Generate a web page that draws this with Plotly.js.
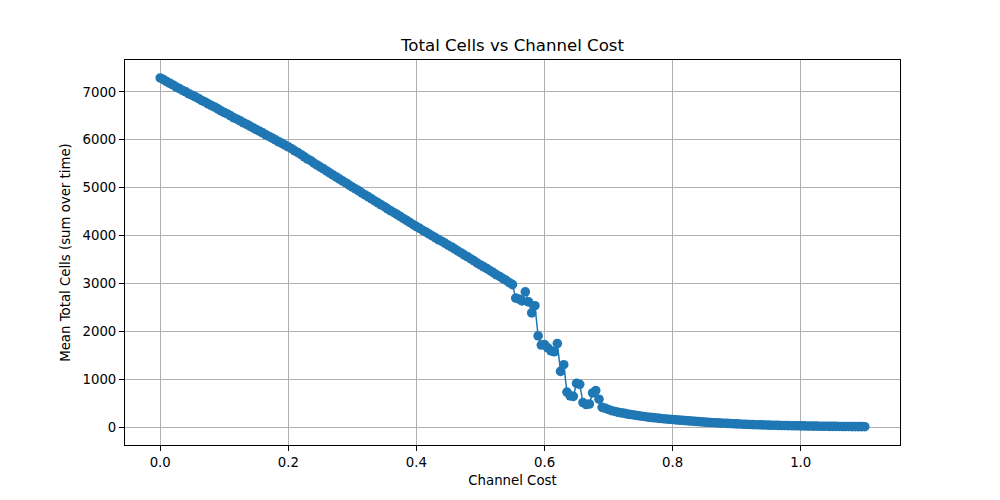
<!DOCTYPE html>
<html>
<head>
<meta charset="utf-8">
<script src="https://cdn.plot.ly/plotly-3.0.1.min.js"></script>
<style>
  html, body { margin: 0; padding: 0; background: #fff; }
  #plot { width: 1000px; height: 500px; }
</style>
</head>
<body>
<div id="plot"></div>
<script>
// channel cost, steps of 0.005 from 0 to 1.1
const channelCost = [
	0.000, 0.005, 0.010, 0.015, 0.020, 0.025, 0.030, 0.035, 0.040, 0.045,
	0.050, 0.055, 0.060, 0.065, 0.070, 0.075, 0.080, 0.085, 0.090, 0.095,
	0.100, 0.105, 0.110, 0.115, 0.120, 0.125, 0.130, 0.135, 0.140, 0.145,
	0.150, 0.155, 0.160, 0.165, 0.170, 0.175, 0.180, 0.185, 0.190, 0.195,
	0.200, 0.205, 0.210, 0.215, 0.220, 0.225, 0.230, 0.235, 0.240, 0.245,
	0.250, 0.255, 0.260, 0.265, 0.270, 0.275, 0.280, 0.285, 0.290, 0.295,
	0.300, 0.305, 0.310, 0.315, 0.320, 0.325, 0.330, 0.335, 0.340, 0.345,
	0.350, 0.355, 0.360, 0.365, 0.370, 0.375, 0.380, 0.385, 0.390, 0.395,
	0.400, 0.405, 0.410, 0.415, 0.420, 0.425, 0.430, 0.435, 0.440, 0.445,
	0.450, 0.455, 0.460, 0.465, 0.470, 0.475, 0.480, 0.485, 0.490, 0.495,
	0.500, 0.505, 0.510, 0.515, 0.520, 0.525, 0.530, 0.535, 0.540, 0.545,
	0.550, 0.555, 0.560, 0.565, 0.570, 0.575, 0.580, 0.585, 0.590, 0.595,
	0.600, 0.605, 0.610, 0.615, 0.620, 0.625, 0.630, 0.635, 0.640, 0.645,
	0.650, 0.655, 0.660, 0.665, 0.670, 0.675, 0.680, 0.685, 0.690, 0.695,
	0.700, 0.705, 0.710, 0.715, 0.720, 0.725, 0.730, 0.735, 0.740, 0.745,
	0.750, 0.755, 0.760, 0.765, 0.770, 0.775, 0.780, 0.785, 0.790, 0.795,
	0.800, 0.805, 0.810, 0.815, 0.820, 0.825, 0.830, 0.835, 0.840, 0.845,
	0.850, 0.855, 0.860, 0.865, 0.870, 0.875, 0.880, 0.885, 0.890, 0.895,
	0.900, 0.905, 0.910, 0.915, 0.920, 0.925, 0.930, 0.935, 0.940, 0.945,
	0.950, 0.955, 0.960, 0.965, 0.970, 0.975, 0.980, 0.985, 0.990, 0.995,
	1.000, 1.005, 1.010, 1.015, 1.020, 1.025, 1.030, 1.035, 1.040, 1.045,
	1.050, 1.055, 1.060, 1.065, 1.070, 1.075, 1.080, 1.085, 1.090, 1.095,
	1.100
];

// mean total cells
const meanTotalCells = [
	7290, 7255, 7215, 7180, 7145, 7100, 7070, 7030, 7000, 6960,
	6930, 6895, 6860, 6820, 6790, 6750, 6715, 6685, 6645, 6605,
	6570, 6540, 6500, 6460, 6430, 6395, 6355, 6325, 6285, 6250,
	6215, 6180, 6145, 6105, 6070, 6035, 6000, 5960, 5925, 5890,
	5855, 5815, 5770, 5735, 5690, 5645, 5600, 5565, 5515, 5475,
	5430, 5395, 5350, 5305, 5265, 5225, 5180, 5140, 5100, 5055,
	5015, 4975, 4935, 4890, 4850, 4810, 4770, 4725, 4685, 4645,
	4605, 4560, 4520, 4480, 4440, 4400, 4355, 4315, 4275, 4230,
	4190, 4155, 4110, 4075, 4035, 3995, 3955, 3915, 3880, 3840,
	3800, 3765, 3720, 3680, 3640, 3595, 3560, 3515, 3475, 3430,
	3390, 3350, 3315, 3270, 3230, 3185, 3150, 3105, 3070, 3020,
	2980, 2700, 2680, 2640, 2830, 2620, 2390, 2540, 1910, 1720,
	1730, 1660, 1600, 1580, 1750, 1170, 1310, 740, 660, 650,
	920, 900, 520, 480, 490, 720, 770, 590, 420, 400,
	375, 350, 335, 315, 305, 295, 280, 270, 260, 250,
	240, 230, 220, 212, 205, 198, 190, 183, 177, 172,
	166, 160, 154, 148, 143, 138, 133, 128, 123, 118,
	113, 108, 104, 100, 96, 92, 88, 85, 82, 78,
	75, 72, 69, 66, 64, 61, 58, 56, 54, 52,
	50, 48, 46, 44, 42, 41, 39, 38, 36, 35,
	34, 33, 31, 30, 29, 28, 27, 26, 25, 24,
	24, 23, 22, 21, 21, 20, 19, 19, 18, 18,
	17
];

const xTicks = [0.0, 0.2, 0.4, 0.6, 0.8, 1.0];
const yTicks = [0, 1000, 2000, 3000, 4000, 5000, 6000, 7000];

const trace = {
	x: channelCost,
	y: meanTotalCells,
	type: 'scatter',
	mode: 'lines+markers',
	line: { color: '#1f77b4', width: 1.5 },
	marker: { color: '#1f77b4', size: 9.6 }
};

const axisStyle = {
	showline: true,
	linecolor: '#000',
	linewidth: 1,
	mirror: true,
	ticks: 'outside',
	ticklen: 5,
	tickwidth: 1,
	tickcolor: '#000',
	showgrid: true,
	gridcolor: '#b0b0b0',
	gridwidth: 1,
	zeroline: false,
	tickfont: { family: 'DejaVu Sans', size: 13.3, color: '#000' }
};

const layout = {
	width: 1000,
	height: 500,
	margin: { l: 125, r: 100, t: 60, b: 55 },
	paper_bgcolor: '#fff',
	plot_bgcolor: '#fff',
	showlegend: false,
	font: { family: 'DejaVu Sans', color: '#000' },
	title: {
		text: 'Total Cells vs Channel Cost',
		font: { family: 'DejaVu Sans', size: 16.6, color: '#000' },
		x: 0.5,
		xref: 'paper',
		y: 0.91,
		yref: 'container',
		yanchor: 'middle'
	},
	xaxis: Object.assign({}, axisStyle, {
		range: [-0.055, 1.155],
		tickvals: xTicks,
		ticktext: xTicks.map(function (v) { return v.toFixed(1); }),
		title: {
			text: 'Channel Cost',
			font: { family: 'DejaVu Sans', size: 13.3, color: '#000' },
			standoff: 6
		}
	}),
	yaxis: Object.assign({}, axisStyle, {
		range: [-365, 7665],
		tickvals: yTicks,
		ticktext: yTicks.map(String),
		title: {
			text: 'Mean Total Cells (sum over time)',
			font: { family: 'DejaVu Sans', size: 13.3, color: '#000' },
			standoff: 8
		}
	})
};

Plotly.newPlot('plot', [trace], layout, { displayModeBar: false, staticPlot: true });
</script>
</body>
</html>
